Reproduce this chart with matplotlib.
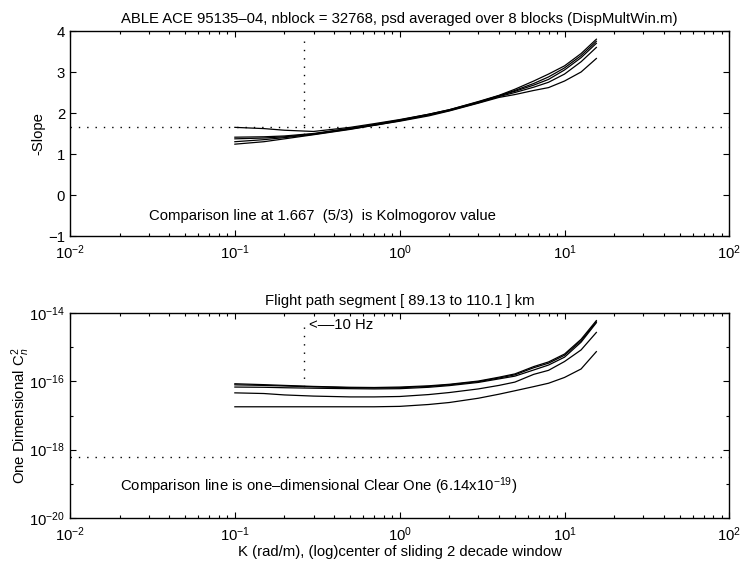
import numpy as np
import matplotlib
matplotlib.use('Agg')
import matplotlib.pyplot as plt
from matplotlib.ticker import FixedLocator, LogLocator, NullFormatter, LogFormatterSciNotation

plt.rcParams['font.family'] = ['Liberation Sans', 'DejaVu Sans']
plt.rcParams['mathtext.fontset'] = 'custom'
plt.rcParams['mathtext.rm'] = 'Liberation Sans'
plt.rcParams['mathtext.it'] = 'Liberation Sans:italic'
plt.rcParams['font.size'] = 10.7

# wavenumber centres (rad/m)
k = [0.1, 0.15, 0.2, 0.3, 0.5, 0.7, 1, 1.5, 2, 3, 4, 5, 6.5, 8, 10, 12.6, 15.6]

# -slope, one curve per window set
slope_1 = [1.65, 1.62, 1.58, 1.55, 1.65, 1.74, 1.84, 1.97, 2.08, 2.28, 2.43, 2.58, 2.78, 2.95, 3.15, 3.45, 3.80]
slope_2 = [1.41, 1.42, 1.44, 1.50, 1.63, 1.72, 1.83, 1.97, 2.08, 2.27, 2.42, 2.55, 2.72, 2.88, 3.10, 3.40, 3.75]
slope_3 = [1.37, 1.39, 1.42, 1.49, 1.62, 1.71, 1.82, 1.96, 2.07, 2.26, 2.42, 2.53, 2.68, 2.82, 3.05, 3.35, 3.70]
slope_4 = [1.30, 1.35, 1.40, 1.48, 1.61, 1.70, 1.81, 1.95, 2.06, 2.25, 2.40, 2.50, 2.63, 2.75, 2.95, 3.25, 3.60]
slope_5 = [1.24, 1.30, 1.37, 1.47, 1.60, 1.70, 1.80, 1.93, 2.05, 2.24, 2.38, 2.45, 2.55, 2.62, 2.78, 3.00, 3.33]

# one dimensional Cn^2
cn2_1 = [8.5e-17, 8.0e-17, 7.6e-17, 7.1e-17, 6.7e-17, 6.6e-17, 6.8e-17, 7.4e-17, 8.2e-17, 1.02e-16, 1.32e-16, 1.65e-16, 2.7e-16, 3.7e-16, 6.3e-16, 1.7e-15, 6.0e-15]
cn2_2 = [7.9e-17, 7.6e-17, 7.3e-17, 6.9e-17, 6.5e-17, 6.4e-17, 6.5e-17, 7.1e-17, 7.9e-17, 9.8e-17, 1.25e-16, 1.55e-16, 2.5e-16, 3.4e-16, 5.8e-16, 1.55e-15, 5.5e-15]
cn2_3 = [6.8e-17, 6.7e-17, 6.5e-17, 6.3e-17, 6.1e-17, 6.0e-17, 6.1e-17, 6.7e-17, 7.5e-17, 9.3e-17, 1.18e-16, 1.42e-16, 2.15e-16, 3.0e-16, 5.1e-16, 1.4e-15, 5.2e-15]
cn2_4 = [4.6e-17, 4.4e-17, 4.0e-17, 3.7e-17, 3.5e-17, 3.5e-17, 3.6e-17, 4.1e-17, 4.7e-17, 6.0e-17, 7.6e-17, 9.5e-17, 1.6e-16, 2.1e-16, 3.8e-16, 8.3e-16, 2.7e-15]
cn2_5 = [1.8e-17, 1.8e-17, 1.8e-17, 1.8e-17, 1.8e-17, 1.8e-17, 1.85e-17, 2.1e-17, 2.4e-17, 3.2e-17, 4.2e-17, 5.3e-17, 7.0e-17, 8.8e-17, 1.3e-16, 2.3e-16, 7.4e-16]

kolmogorov = 1.667
clear_one = 6.14e-19
k_10hz = 0.262

fig = plt.figure(figsize=(7.45, 5.65), dpi=100)
ax1 = fig.add_axes([0.094, 0.5823, 0.885, 0.3628])
ax2 = fig.add_axes([0.094, 0.0832, 0.885, 0.3628])

dots = (0, (1, 5))

for s in [slope_1, slope_2, slope_3, slope_4, slope_5]:
    ax1.plot(k, s, color='black', lw=0.9)
ax1.plot([0.01, 100], [kolmogorov, kolmogorov], color='black', lw=1, ls=dots)
ax1.plot([k_10hz, k_10hz], [3.75, 1.52], color='black', lw=1, ls=dots)
ax1.set_xscale('log')
ax1.set_xlim(0.01, 100)
ax1.set_ylim(-1, 4)
ax1.set_yticks([-1, 0, 1, 2, 3, 4])
ax1.set_ylabel('-Slope', labelpad=2)
ax1.set_title('ABLE ACE 95135\u201304, nblock = 32768, psd averaged over 8 blocks (DispMultWin.m)',
              fontsize=10.7, pad=6)
ax1.text(0.03, -0.62, 'Comparison line at 1.667  (5/3)  is Kolmogorov value')

for c in [cn2_1, cn2_2, cn2_3, cn2_4, cn2_5]:
    ax2.plot(k, c, color='black', lw=0.9)
ax2.plot([0.01, 100], [clear_one, clear_one], color='black', lw=1, ls=dots)
ax2.plot([k_10hz, k_10hz], [4e-15, 6.5e-17], color='black', lw=1, ls=dots)
ax2.set_xscale('log')
ax2.set_yscale('log')
ax2.set_xlim(0.01, 100)
ax2.set_ylim(1e-20, 1e-14)
ax2.yaxis.set_major_locator(FixedLocator([1e-20, 1e-18, 1e-16, 1e-14]))
ax2.yaxis.set_major_formatter(LogFormatterSciNotation())
ax2.yaxis.set_minor_locator(FixedLocator([1e-19, 1e-17, 1e-15]))
ax2.yaxis.set_minor_formatter(NullFormatter())
ax2.set_ylabel('One Dimensional C$_n^2$', labelpad=-2)
ax2.set_xlabel('K (rad/m), (log)center of sliding 2 decade window', labelpad=1)
ax2.set_title('Flight path segment [ 89.13 to 110.1 ] km', fontsize=10.7, pad=6)
ax2.text(0.28, 3.3e-15, '<\u2013\u201310 Hz')
ax2.text(0.02, 6e-20, 'Comparison line is one\u2013dimensional Clear One (6.14x10$^{-19}$)')

for ax in [ax1, ax2]:
    ax.xaxis.set_minor_locator(LogLocator(base=10, subs=np.arange(2, 10)))
    ax.xaxis.set_minor_formatter(NullFormatter())
    ax.tick_params(which='both', direction='in', top=True, right=True)
    ax.tick_params(which='major', length=4, width=0.8)
    ax.tick_params(which='minor', length=2, width=0.8)
    ax.tick_params(axis='x', which='major', pad=5)
    for sp in ax.spines.values():
        sp.set_linewidth(1.0)

fig.savefig('out.png', dpi=100)
